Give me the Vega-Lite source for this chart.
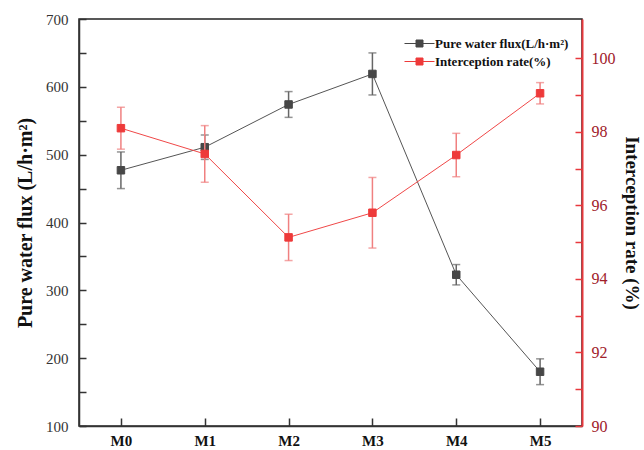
{
  "$schema": "https://vega.github.io/schema/vega-lite/v6.json",
  "width": 503,
  "height": 407,
  "autosize": {"type": "none"},
  "padding": {"left": 79, "top": 19, "right": 62, "bottom": 24},
  "background": "white",
  "config": {
    "view": {"stroke": "#222", "strokeWidth": 1.5},
    "font": "Liberation Serif",
    "axis": {"grid": false, "domainWidth": 1.5, "tickWidth": 1.5, "labelFont": "Liberation Serif", "titleFont": "Liberation Serif"},
    "legend": {"labelFont": "Liberation Serif"}
  },
  "data": {
    "values": [
      {"cat": "M0", "series": "Pure water flux(L/h·m²)", "value": 477, "err": 27},
      {"cat": "M1", "series": "Pure water flux(L/h·m²)", "value": 511, "err": 18},
      {"cat": "M2", "series": "Pure water flux(L/h·m²)", "value": 574, "err": 19},
      {"cat": "M3", "series": "Pure water flux(L/h·m²)", "value": 619, "err": 31},
      {"cat": "M4", "series": "Pure water flux(L/h·m²)", "value": 323, "err": 15},
      {"cat": "M5", "series": "Pure water flux(L/h·m²)", "value": 180, "err": 19},
      {"cat": "M0", "series": "Interception rate(%)", "value": 98.1, "err": 0.57},
      {"cat": "M1", "series": "Interception rate(%)", "value": 97.4, "err": 0.77},
      {"cat": "M2", "series": "Interception rate(%)", "value": 95.13, "err": 0.63},
      {"cat": "M3", "series": "Interception rate(%)", "value": 95.8, "err": 0.96},
      {"cat": "M4", "series": "Interception rate(%)", "value": 97.37, "err": 0.59},
      {"cat": "M5", "series": "Interception rate(%)", "value": 99.05, "err": 0.29}
    ]
  },
  "encoding": {
    "x": {
      "field": "cat", "type": "ordinal", "title": null,
      "scale": {"type": "point", "padding": 0.5},
      "axis": {"labelAngle": 0, "labelFontSize": 15, "labelFontWeight": "bold", "labelColor": "#111",
               "domainColor": "#333", "tickColor": "#333", "tickSize": -8, "labelPadding": 15}
    }
  },
  "layer": [
    {
      "transform": [{"filter": "datum.series === 'Pure water flux(L/h·m²)'"}],
      "encoding": {
        "y": {
          "field": "value", "type": "quantitative", "title": "Pure water flux (L/h·m²)",
          "scale": {"domain": [100, 700], "nice": false, "zero": false},
          "axis": {"orient": "left", "values": [100, 150, 200, 250, 300, 350, 400, 450, 500, 550, 600, 650, 700],
                   "labelExpr": "datum.value % 100 === 0 ? datum.label : ''",
                   "labelFontSize": 15, "labelColor": "#333", "domainColor": "#333", "tickColor": "#333",
                   "tickSize": -7, "labelPadding": 18, "titleFontSize": 20, "titleFontWeight": "bold",
                   "titleColor": "#111", "titlePadding": 10}
        }
      },
      "layer": [
        {"mark": {"type": "line", "color": "#555", "strokeWidth": 1}},
        {"mark": {"type": "errorbar", "ticks": {"size": 8, "color": "#666"}, "color": "#666", "thickness": 1.5},
         "encoding": {"yError": {"field": "err"}}},
        {"mark": {"type": "point", "shape": "square", "filled": true, "size": 56, "opacity": 1, "strokeWidth": 1},
         "encoding": {
           "fill": {"field": "series", "type": "nominal",
             "scale": {"domain": ["Pure water flux(L/h·m²)", "Interception rate(%)"], "range": ["#474747", "#ee3a3a"]},
             "legend": {"title": null, "orient": "none", "legendX": 334, "legendY": 18,
                      "symbolType": "M-3,0H3M-0.7,-0.7H0.7V0.7H-0.7Z", "symbolSize": 100,
                      "symbolStrokeWidth": 1, "labelOffset": 9, "labelFontSize": 13, "labelFontWeight": "bold",
                      "labelColor": "#111", "rowPadding": 4}},
           "stroke": {"field": "series", "type": "nominal",
             "scale": {"domain": ["Pure water flux(L/h·m²)", "Interception rate(%)"], "range": ["#474747", "#ee3a3a"]},
             "legend": {"title": null, "orient": "none", "legendX": 334, "legendY": 18,
                      "symbolType": "M-3,0H3M-0.7,-0.7H0.7V0.7H-0.7Z", "symbolSize": 100,
                      "symbolStrokeWidth": 1, "labelOffset": 9, "labelFontSize": 13, "labelFontWeight": "bold",
                      "labelColor": "#111", "rowPadding": 4}}}}
      ]
    },
    {
      "transform": [{"filter": "datum.series === 'Interception rate(%)'"}],
      "encoding": {
        "y": {
          "field": "value", "type": "quantitative", "title": "Interception rate (%)",
          "scale": {"domain": [90, 101.07], "nice": false, "zero": false},
          "axis": {"orient": "right", "values": [90, 91, 92, 93, 94, 95, 96, 97, 98, 99, 100],
                   "labelExpr": "datum.value % 2 === 0 ? datum.label : ''",
                   "labelFontSize": 16, "labelColor": "#a0202a", "domainColor": "#e8383d", "tickColor": "#e8383d",
                   "domainWidth": 2, "tickSize": -7, "labelPadding": 16, "titleFontSize": 19, "titleFontWeight": "bold",
                   "titleColor": "#111", "titlePadding": 6}
        }
      },
      "layer": [
        {"mark": {"type": "line", "color": "#f04848", "strokeWidth": 1}},
        {"mark": {"type": "errorbar", "ticks": {"size": 8, "color": "#f08080"}, "color": "#f08080", "thickness": 1.5},
         "encoding": {"yError": {"field": "err"}}},
        {"mark": {"type": "point", "shape": "square", "filled": true, "size": 56, "opacity": 1, "strokeWidth": 1},
         "encoding": {"fill": {"field": "series", "type": "nominal"}, "stroke": {"field": "series", "type": "nominal"}}}
      ]
    }
  ],
  "resolve": {"scale": {"y": "independent"}}
}
